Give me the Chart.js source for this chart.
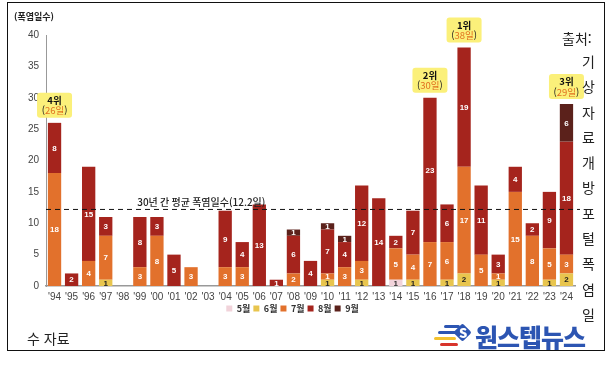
<!DOCTYPE html>
<html lang="ko">
<head>
    <meta charset="UTF-8">
    <title>연도별 폭염일수</title>
    <script src="https://cdn.jsdelivr.net/npm/chart.js"></script>
    <style>
        body { margin: 0; background: #fff; font-family: "Noto Sans CJK KR", sans-serif; }
        .wrap { position: relative; width: 616px; height: 365px; overflow: hidden; }
        #heatChart { position: absolute; left: 0; top: 0; }
        .frame { position: absolute; left: 7px; top: 2px; width: 596px; height: 347px; border: 1.5px solid #111; }
        .unit { position: absolute; left: 14px; top: 10px; font-size: 9px; font-weight: bold; color: #222; }
        .src-head { position: absolute; left: 562px; top: 28px; font-size: 14px; color: #222; }
        .src-vert { position: absolute; left: 582px; top: 49px; width: 16px; font-size: 14px; line-height: 25.3px; color: #222; word-break: break-all; }
        .src-tail { position: absolute; left: 27px; top: 328px; font-size: 14px; color: #222; }
        .logo { position: absolute; left: 475px; top: 318px; font-size: 25px; font-weight: 900; color: #2c55b2; letter-spacing: -1px; }
        .stripe { position: absolute; height: 3px; border-radius: 2px; }
        .dia { position: absolute; left: 456px; top: 326px; width: 13px; height: 13px; background: #2c55b2; transform: rotate(45deg); border-radius: 2px; }
        .dia-s { position: absolute; left: 459px; top: 323px; font-size: 13px; font-weight: 900; color: #fff; }
    </style>
</head>
<body>
<div class="wrap">
    <canvas id="heatChart" width="616" height="365"></canvas>
    <div class="frame"></div>
    <div class="unit">(폭염일수)</div>
    <div class="src-head">출처:</div>
    <div class="src-vert">기상자료개방포털폭염일</div>
    <div class="src-tail">수 자료</div>
    <div class="stripe" style="left:444px;top:325px;width:16px;background:#2c55b2"></div>
    <div class="stripe" style="left:438px;top:331px;width:20px;background:#2c55b2"></div>
    <div class="stripe" style="left:434px;top:337px;width:22px;background:#f2c230"></div>
    <div class="stripe" style="left:440px;top:343px;width:18px;background:#d8342b"></div>
    <div class="dia"></div>
    <div class="dia-s">S</div>
    <div class="logo">원스텝뉴스</div>
</div>

<script>
    // 연도별 월별 폭염일수
    const years = ["'94","'95","'96","'97","'98","'99","'00","'01","'02","'03","'04","'05","'06","'07","'08",
                   "'09","'10","'11","'12","'13","'14","'15","'16","'17","'18","'19","'20","'21","'22","'23","'24"];
    const may  = [0,0,0,0,0,0,0,0,0,0,0,0,0,0,0,0,0,0,0,0,1,0,0,0,0,0,0,0,0,0,0];
    const june = [0,0,0,1,0,0,0,0,0,0,0,0,0,0,0,0,1,0,1,0,0,1,0,1,2,0,1,0,0,1,2];
    const july = [18,0,4,7,0,3,8,0,3,0,3,3,0,0,2,0,1,3,3,0,5,4,7,6,17,5,1,15,8,5,3];
    const aug  = [8,2,15,3,0,8,3,5,0,0,9,4,13,1,6,4,7,4,12,14,2,7,23,6,19,11,3,4,2,9,18];
    const sep  = [0,0,0,0,0,0,0,0,0,0,0,0,0,0,1,0,1,1,0,0,0,0,0,0,0,0,0,0,0,0,6];
    const yTicks = [0,5,10,15,20,25,30,35,40];
    const avgDays = 12.2;
    const avgLabel = '30년 간 평균 폭염일수(12.2일)';
    const rankYears = ["'94","'16","'18","'24"];
    const rankNames = ['4위','2위','1위','3위'];

    const colors = ['#f1d3da', '#e8c54e', '#e2712c', '#a5241d', '#5b211b'];
    const darkText = ['#333', '#222'];

    const KR = '"Noto Sans CJK KR", sans-serif';
    const NUM = '"Liberation Sans", Arial, sans-serif';

    const totals = years.map((_, i) => may[i] + june[i] + july[i] + aug[i] + sep[i]);

    // 막대 안 숫자
    const segLabels = {
        id: 'segLabels',
        afterDatasetsDraw(chart) {
            const ctx = chart.ctx;
            ctx.save();
            ctx.textAlign = 'center';
            ctx.textBaseline = 'middle';
            ctx.font = '600 8px ' + NUM;
            chart.data.datasets.forEach((ds, di) => {
                const meta = chart.getDatasetMeta(di);
                meta.data.forEach((bar, i) => {
                    const v = ds.data[i];
                    if (!v) return;
                    ctx.fillStyle = di < 2 ? darkText[di] : '#fff';
                    ctx.fillText(v, bar.x, (bar.y + bar.base) / 2 + 0.5);
                });
            });
            ctx.restore();
        }
    };

    // 평균선 + 순위 라벨
    const extras = {
        id: 'extras',
        afterDatasetsDraw(chart) {
            const ctx = chart.ctx;
            const xs = chart.scales.x, ys = chart.scales.y;
            const area = chart.chartArea;
            const yAvg = ys.getPixelForValue(avgDays);
            ctx.save();
            ctx.strokeStyle = '#111';
            ctx.lineWidth = 1;
            ctx.setLineDash([5, 4]);
            ctx.beginPath();
            ctx.moveTo(area.left, yAvg);
            ctx.lineTo(area.right + 5, yAvg);
            ctx.stroke();
            ctx.setLineDash([]);
            ctx.fillStyle = '#222';
            ctx.font = '500 10px ' + KR;
            ctx.textAlign = 'center';
            ctx.textBaseline = 'bottom';
            ctx.fillText(avgLabel, xs.getPixelForValue(8.6), yAvg - 2);

            rankYears.forEach((yr, k) => {
                const i = years.indexOf(yr);
                const cx = xs.getPixelForValue(i);
                const top = ys.getPixelForValue(totals[i]);
                const w = 35, h = 25;
                const bx = cx - w / 2, by = top - 5 - h;
                ctx.fillStyle = '#fbf07a';
                ctx.beginPath();
                ctx.roundRect(bx, by, w, h, 3);
                ctx.fill();
                ctx.textBaseline = 'middle';
                ctx.fillStyle = '#111';
                ctx.font = 'bold 9.5px ' + KR;
                ctx.fillText(rankNames[k], cx, by + 7.5);
                ctx.font = '9.5px ' + KR;
                const open = '(', days = totals[i] + '일', close = ')';
                const wo = ctx.measureText(open).width, wd = ctx.measureText(days).width, wc = ctx.measureText(close).width;
                let x0 = cx - (wo + wd + wc) / 2;
                ctx.textAlign = 'left';
                ctx.fillStyle = '#222';
                ctx.fillText(open, x0, by + 18);
                ctx.fillStyle = '#e0701f';
                ctx.fillText(days, x0 + wo, by + 18);
                ctx.fillStyle = '#222';
                ctx.fillText(close, x0 + wo + wd, by + 18);
                ctx.textAlign = 'center';
            });
            ctx.restore();
        }
    };

    function makeSet(label, data, c) {
        return { label, data, backgroundColor: c, borderWidth: 0, categoryPercentage: 0.78, barPercentage: 1 };
    }

    new Chart(document.getElementById('heatChart'), {
        type: 'bar',
        data: {
            labels: years,
            datasets: [
                makeSet('5월', may, colors[0]),
                makeSet('6월', june, colors[1]),
                makeSet('7월', july, colors[2]),
                makeSet('8월', aug, colors[3]),
                makeSet('9월', sep, colors[4])
            ]
        },
        options: {
            responsive: false,
            animation: false,
            layout: { padding: { left: 10, right: 41, top: 35, bottom: 42 } },
            plugins: {
                tooltip: { enabled: false },
                legend: {
                    position: 'bottom',
                    labels: {
                        boxWidth: 6, boxHeight: 6, padding: 3,
                        color: '#333',
                        font: { family: KR, size: 9, weight: 'bold' }
                    }
                }
            },
            scales: {
                x: {
                    stacked: true,
                    afterFit(s) { s.height = 15; },
                    grid: { display: false, drawTicks: false },
                    border: { color: '#999', width: 1.5 },
                    ticks: { color: '#444', padding: 5, maxRotation: 0, autoSkip: false, font: { family: NUM, size: 10 } }
                },
                y: {
                    stacked: true,
                    min: 0, max: 40,
                    afterFit(s) { s.width = 36; },
                    afterBuildTicks(s) { s.ticks = yTicks.map(v => ({ value: v })); },
                    grid: { display: false, drawTicks: false },
                    border: { color: '#999', width: 1 },
                    ticks: { color: '#444', padding: 7, font: { family: NUM, size: 10 } }
                }
            }
        },
        plugins: [segLabels, extras]
    });
</script>
</body>
</html>
